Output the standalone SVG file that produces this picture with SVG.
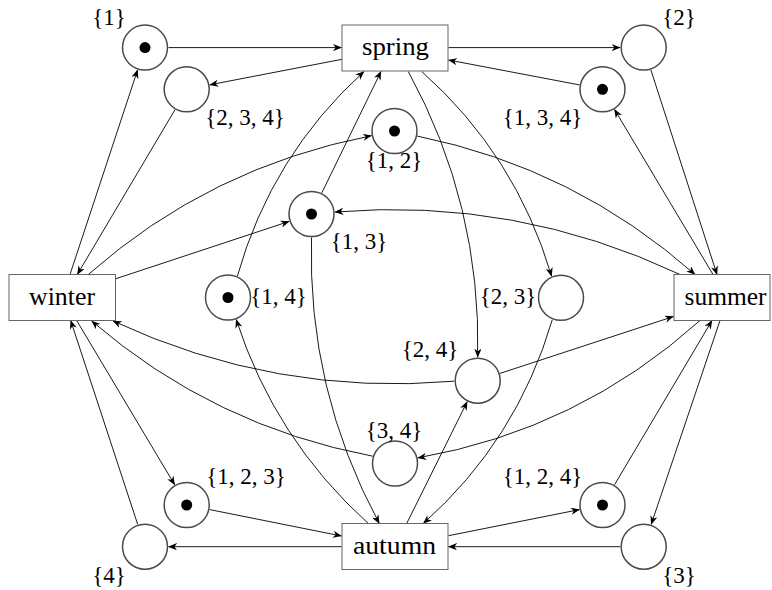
<svg xmlns="http://www.w3.org/2000/svg" width="772" height="590" viewBox="0 0 772 590">
<style>
.box{fill:#fff;stroke:#666;stroke-width:1}
.pl{fill:#fff;stroke:#4a4a4a;stroke-width:1.5}
.tok{fill:#000}
.bl{font-family:"Liberation Serif",serif;font-size:24.5px;text-anchor:middle;fill:#000}
.lb{font-family:"Liberation Serif",serif;font-size:23px;text-anchor:middle;fill:#000}
#edges path{fill:none;stroke:#000;stroke-width:0.9;marker-end:url(#arr)}
</style>
<defs>
<marker id="arr" viewBox="0 0 10 8" refX="9.5" refY="4" markerWidth="9" markerHeight="7.2" markerUnits="userSpaceOnUse" orient="auto">
<path d="M0,0 L10,4 L0,8 L3,4 Z" fill="#000"/>
</marker>
</defs>
<g id="edges">
<path d="M168.5,47.6 H341.5"/>
<path d="M342,59.3 L209.8,84.8"/>
<path d="M70,274.5 L137.6,69.9"/>
<path d="M175,109.7 L77.3,274.5"/>
<path d="M88.3,274.5 Q210,167 371.5,135.7"/>
<path d="M115,279 L289.2,221.4"/>
<path d="M237.4,276 Q271.4,155.6 364,71.5"/>
<path d="M321.8,192.9 L381,71.5"/>
<path d="M680,274.5 Q515.9,197.1 334.9,212"/>
<path d="M417.4,136.1 Q574.8,168.1 695,274.5"/>
<path d="M421.7,71.5 Q516,155.2 551.6,276.2"/>
<path d="M408.3,71.5 Q481.3,205 477.7,357.2"/>
<path d="M448.5,47.6 H620.2"/>
<path d="M579.4,84.9 L448.5,60"/>
<path d="M650.9,70 L717,274.5"/>
<path d="M713,274.5 L614.5,109.5"/>
<path d="M368.3,523.5 Q274.9,439.2 236.2,319.5"/>
<path d="M311.5,237.5 Q307.1,389.6 379.3,523.5"/>
<path d="M454.2,381.2 Q275.5,396.6 113,321"/>
<path d="M372.7,456.2 Q214.1,426.3 91.7,321"/>
<path d="M500,373.4 L673.5,316.5"/>
<path d="M700,320.5 Q578.6,429.7 417.8,457.9"/>
<path d="M406.7,523.5 L467.2,401.7"/>
<path d="M552.3,319.7 Q517,440.1 423.3,523.5"/>
<path d="M76.7,320.5 L174.7,484.8"/>
<path d="M137.7,524.4 L70.7,320.5"/>
<path d="M209.7,509.6 L341.5,536"/>
<path d="M341.5,546.7 H168.5"/>
<path d="M448.5,535.7 L579.5,509.6"/>
<path d="M620.2,546.7 H448.5"/>
<path d="M614.5,484.8 L712,320.5"/>
<path d="M720,320.5 L651.2,524.4"/>
</g>
<g id="spring"><rect class="box" x="342" y="25" width="106" height="46"/><text class="bl" x="395.5" y="55" textLength="67" lengthAdjust="spacingAndGlyphs">spring</text></g>
<g id="winter"><rect class="box" x="9" y="274.5" width="106.5" height="46"/><text class="bl" x="62" y="305" textLength="66" lengthAdjust="spacingAndGlyphs">winter</text></g>
<g id="summer"><rect class="box" x="674" y="274.5" width="96" height="46"/><text class="bl" x="725.5" y="305" textLength="82" lengthAdjust="spacingAndGlyphs">summer</text></g>
<g id="autumn"><rect class="box" x="342" y="523.5" width="106" height="46"/><text class="bl" x="394.5" y="554" textLength="83" lengthAdjust="spacingAndGlyphs">autumn</text></g>
<g id="p1"><circle class="pl" cx="145" cy="47.6" r="22.5"/><circle class="tok" cx="145" cy="47.6" r="5.5"/><text class="lb" x="109" y="25">{1}</text></g>
<g id="p234"><circle class="pl" cx="186.7" cy="89.3" r="22.5"/><text class="lb" x="245" y="125">{2, 3, 4}</text></g>
<g id="p12"><circle class="pl" cx="394.5" cy="131" r="22.5"/><circle class="tok" cx="394.5" cy="131" r="5.5"/><text class="lb" x="394" y="168">{1, 2}</text></g>
<g id="p13"><circle class="pl" cx="311.5" cy="214" r="22.5"/><circle class="tok" cx="311.5" cy="214" r="5.5"/><text class="lb" x="359" y="249">{1, 3}</text></g>
<g id="p14"><circle class="pl" cx="228" cy="297.5" r="22.5"/><circle class="tok" cx="228" cy="297.5" r="5.5"/><text class="lb" x="278.5" y="304">{1, 4}</text></g>
<g id="p2"><circle class="pl" cx="643.7" cy="47.6" r="22.5"/><text class="lb" x="679" y="25">{2}</text></g>
<g id="p134"><circle class="pl" cx="602.5" cy="89.3" r="22.5"/><circle class="tok" cx="602.5" cy="89.3" r="5.5"/><text class="lb" x="542.5" y="125">{1, 3, 4}</text></g>
<g id="p23"><circle class="pl" cx="561" cy="297.8" r="22.5"/><text class="lb" x="508" y="304">{2, 3}</text></g>
<g id="p24"><circle class="pl" cx="477.7" cy="380.7" r="22.5"/><text class="lb" x="430" y="357">{2, 4}</text></g>
<g id="p34"><circle class="pl" cx="395" cy="463.5" r="22.5"/><text class="lb" x="394" y="437.5">{3, 4}</text></g>
<g id="p123"><circle class="pl" cx="186.7" cy="505" r="22.5"/><circle class="tok" cx="186.7" cy="505" r="5.5"/><text class="lb" x="246" y="484">{1, 2, 3}</text></g>
<g id="p4"><circle class="pl" cx="145" cy="546.7" r="22.5"/><text class="lb" x="109" y="583">{4}</text></g>
<g id="p124"><circle class="pl" cx="602.5" cy="505" r="22.5"/><circle class="tok" cx="602.5" cy="505" r="5.5"/><text class="lb" x="542.5" y="484">{1, 2, 4}</text></g>
<g id="p3"><circle class="pl" cx="643.7" cy="546.7" r="22.5"/><text class="lb" x="679" y="583">{3}</text></g>
</svg>
